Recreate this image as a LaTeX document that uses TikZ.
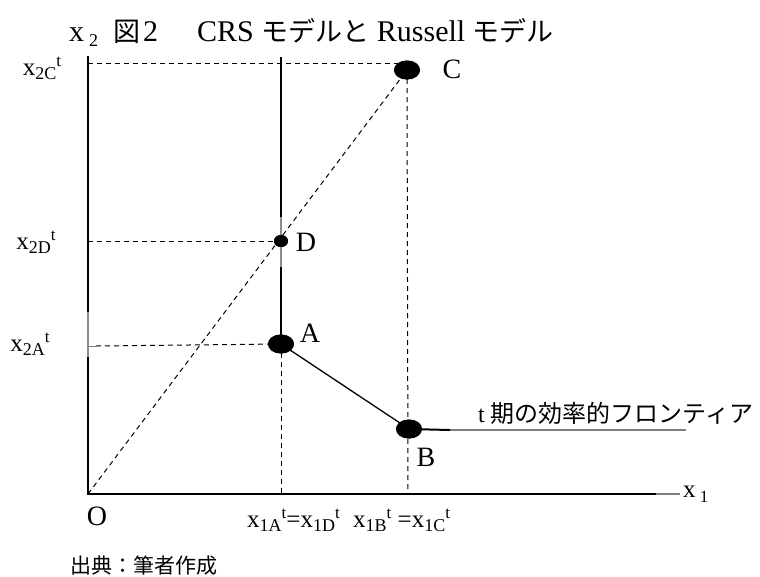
\documentclass[tikz,border=0pt]{standalone}
\usepackage{fontspec}
\setmainfont{Liberation Serif}
\newfontfamily\jp{Noto Sans CJK JP}
\usetikzlibrary{shapes.geometric}
\newcommand\J[1]{{\jp #1}}
\newcommand\TJ[1]{{\jp\fontsize{27}{30}\selectfont #1}}
\newcommand\xlab[2]{x\raisebox{-0.3ex}{\fontsize{18}{18}\selectfont #1}\raisebox{0.85ex}{\fontsize{17}{17}\selectfont #2}}
\begin{document}
\begin{tikzpicture}[x=1pt,y=-1pt,
  bigdot/.style={ellipse,fill=black,draw=none,minimum width=26pt,minimum height=19pt,inner sep=0pt},
  smalldot/.style={ellipse,fill=black,draw=none,minimum width=14pt,minimum height=12pt,inner sep=0pt},
  axisline/.style={line width=2.5pt},
  solidline/.style={line width=2pt},
  thinline/.style={line width=1.3pt},
  guide/.style={line width=1pt,dash pattern=on 5pt off 4pt},
  greyline/.style={line width=2.5pt,color=black!50},
  pointlabel/.style={font=\fontsize{28}{30}\selectfont,inner sep=0pt},
  axlabel/.style={font=\fontsize{25}{27}\selectfont,inner sep=0pt},
  jptext/.style={font=\fontsize{24}{26}\selectfont,inner sep=0pt}]
\useasboundingbox (0,0) rectangle (760,576);

% coordinates
\coordinate (O) at (88,494);
\coordinate (ytop) at (88,56);
\coordinate (xend) at (656,494);
\coordinate (xtail) at (680,494);
\coordinate (vtop) at (281,57);
\coordinate (yC) at (88,63);
\coordinate (yCe) at (400,63);
\coordinate (yD) at (88,241);
\coordinate (yA) at (88,346);
\coordinate (yAg) at (96,346);
\coordinate (xA) at (281,494);
\coordinate (xB) at (408,494);
\coordinate (Bend) at (450,430);
\coordinate (Fend) at (686,430);
\coordinate (gD1) at (281,217);
\coordinate (gD2) at (281,267);
\coordinate (gA1) at (88,312);
\coordinate (gA2) at (88,357);

% points
\path (407,70) node[bigdot] (C) {};
\path (281,241) node[smalldot] (D) {};
\path (281,344) node[bigdot] (A) {};
\path (409,429) node[bigdot] (B) {};

% guides
\draw[guide] (yC) -- (yCe);
\draw[guide] (O) -- (C.center);
\draw[guide] (C.center) -- (xB);
\draw[guide] (yD) -- (D.center);
\draw[guide] (yAg) -- (A.center);
\draw[line width=1pt,black!50] (yA) -- (yAg);
\draw[guide] (A.center) -- (xA);

% axes and lines
\draw[axisline] (ytop) -- (O) -- (xend);
\draw[greyline] (xend) -- (xtail);
\draw[solidline] (vtop) -- (A.center);
\draw[line width=2pt,black!45] (gD1) -- (gD2);
\draw[line width=2.5pt,black!45] (gA1) -- (gA2);
\draw[thinline] (A.center) -- (B.center);
\draw[solidline] (B.center) -- (Bend);
\draw[greyline] (Bend) -- (Fend);

% dots on top
\path (407,70) node[bigdot] {};
\path (281,241) node[smalldot] {};
\path (281,344) node[bigdot] {};
\path (409,429) node[bigdot] {};

% point labels
\node[pointlabel] (lC) at (452,69) {C};
\node[pointlabel] (lD) at (306,242) {D};
\node[pointlabel] (lA) at (310,333) {A};
\node[pointlabel] (lB) at (426,457) {B};
\node[pointlabel] (lO) at (97,516) {O};

% axis labels
\node[axlabel] (l2C) at (42,68) {\xlab{2C}{t}};
\node[axlabel] (l2D) at (36,242) {\xlab{2D}{t}};
\node[axlabel] (l2A) at (30,344) {\xlab{2A}{t}};
\node[axlabel,anchor=west] (l1AD) at (247,520) {\xlab{1A}{t}=\xlab{1D}{t}};
\node[axlabel,anchor=west] (l1BC) at (353,520) {\xlab{1B}{t} =\xlab{1C}{t}};
\node[axlabel,anchor=west] (lx1) at (683,494) {x\,\raisebox{-0.4ex}{\fontsize{17}{17}\selectfont 1}};

% frontier label
\node[jptext,anchor=west] (front) at (478,413) {t \J{期の効率的フロンティア}};

% title
\node[anchor=base west,inner sep=0pt,font=\fontsize{30}{32}\selectfont] (title) at (69,41)
  {x\,\raisebox{-0.4ex}{\fontsize{18}{18}\selectfont 2}\hspace{0.5em}\TJ{図}\hspace{0.1em}2\hspace{1.3em}CRS \TJ{モデルと} Russell \TJ{モデル}};

% source
\node[jptext,anchor=west,font=\fontsize{21}{23}\selectfont] (src) at (70,566) {\J{出典：筆者作成}};
\end{tikzpicture}
\end{document}
